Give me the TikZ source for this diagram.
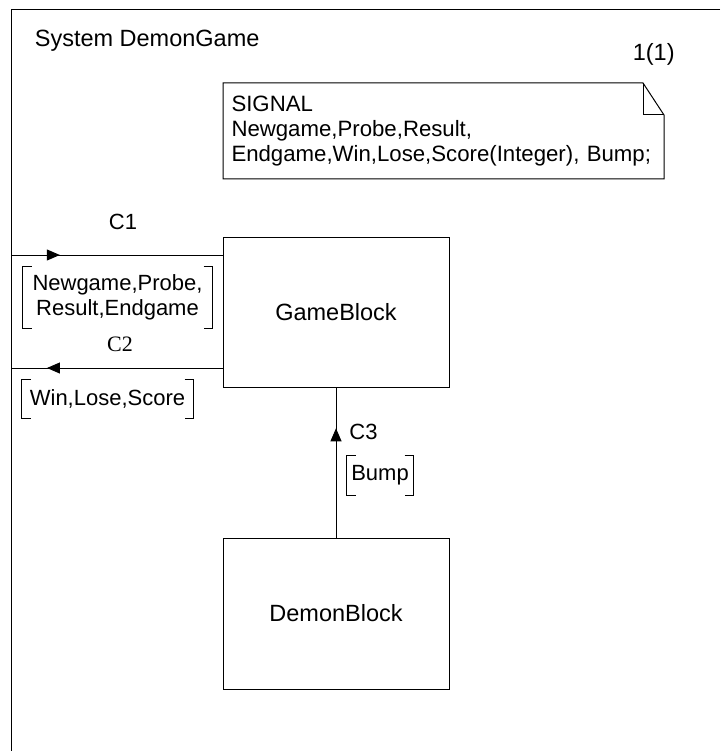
\documentclass[tikz,border=0pt]{standalone}
\usepackage{fontspec}
\setmainfont{Liberation Sans}
\newfontfamily\serifc{Liberation Serif}
\usetikzlibrary{arrows.meta,decorations.markings}

\newcommand\sigbrackets[1]{%
\draw ([xshift=9pt]#1.north west) -- (#1.north west) -- (#1.south west) -- ([xshift=9pt]#1.south west);
\draw ([xshift=-9pt]#1.north east) -- (#1.north east) -- (#1.south east) -- ([xshift=-9pt]#1.south east);}

\begin{document}
\begin{tikzpicture}[x=1pt,y=-1pt,line width=1pt,
  every node/.style={font=\fontsize{22}{25}\selectfont},
  big/.style={font=\fontsize{23.5}{27}\selectfont},
  block/.style={draw,big,minimum width=226pt,minimum height=150pt},
  sigset/.style={inner sep=0pt,align=center},
  signote/.style={anchor=north west,font=\fontsize{22.2}{25}\selectfont,text width=424pt,inner xsep=8pt,inner ysep=9pt,minimum height=95pt,align=left},
  flow/.style={postaction={decorate},decoration={markings,mark=at position #1 with {\arrow{Triangle[length=13pt,width=11pt]}}}}]
\useasboundingbox (0,0) rectangle (720,751);
\draw (720,10) -- (11,10) -- (11,751);
\node[big,anchor=base west] (title) at (31,47) {System DemonGame};
\node[big,anchor=base west] (page) at (629,61) {1(1)};
\node[signote] (signals) at (223,83) {SIGNAL\\Newgame,Probe,Result,\\Endgame,Win,Lose,Score(Integer), Bump;};
\draw (signals.south west) -- (signals.north west) -- ([xshift=-21pt]signals.north east) -- ([yshift=-32pt]signals.north east) -- (signals.south east) -- cycle;
\draw ([xshift=-21pt]signals.north east) |- ([yshift=-32pt]signals.north east);
\node[block] (game) at (336,312) {GameBlock};
\node[block,minimum height=151pt] (demon) at (336,613.5) {DemonBlock};
\coordinate (envin) at (11,255);
\coordinate (envout) at (11,368);
\draw[flow=0.231] (envin) -- (envin -| game.west);
\draw[flow=0.83] (envout -| game.west) -- (envout);
\draw[flow=0.728] (demon.north) -- (game.south);
\node (c1) at (123,222) {C1};
\node[font=\serifc\fontsize{22}{25}\selectfont] (c2) at (120,344) {C2};
\node (c3) at (363.5,432) {C3};
\node[sigset,minimum width=189pt,minimum height=61pt] (sig1) at (117.5,297.5) {Newgame,Probe,\\Result,Endgame};
\node[sigset,minimum width=171pt,minimum height=38pt] (sig2) at (107.5,399) {Win,Lose,Score};
\node[sigset,minimum width=66pt,minimum height=39pt] (sig3) at (380,475.5) {Bump};
\sigbrackets{sig1}
\sigbrackets{sig2}
\sigbrackets{sig3}
\end{tikzpicture}
\end{document}
